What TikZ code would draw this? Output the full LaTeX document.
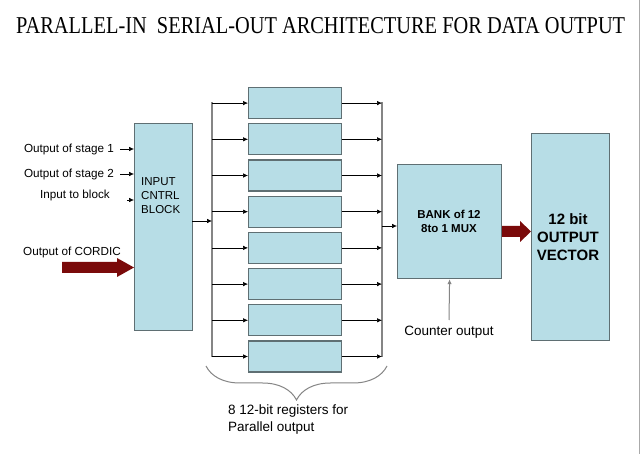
\documentclass[tikz,border=0pt]{standalone}
\usepackage{fontspec}
\setmainfont{Liberation Sans}
\newfontfamily\titlefont{Liberation Serif}
\usetikzlibrary{arrows.meta,decorations.pathreplacing,calc}
\definecolor{boxfill}{HTML}{B7DDE6}
\definecolor{boxline}{HTML}{5F6F73}
\definecolor{busgray}{HTML}{858585}
\definecolor{darkred}{HTML}{7A0A0A}
\tikzset{
  blk/.style={draw=boxline, line width=1.2pt, fill=boxfill, anchor=north west, inner sep=0pt},
  arr/.style={-{Latex[length=5pt,width=4.5pt]}, black, line width=0.6pt},
  bus/.style={draw=busgray, line width=1.4pt},
  lbl/.style={font=\fontsize{11.7}{14}\selectfont, inner sep=0pt},
  bigarrow/.style={fill=darkred},
}
\begin{document}
\begin{tikzpicture}[x=1pt,y=-1pt]
\useasboundingbox (0,0) rectangle (643,454);
\fill[white] (0,0) rectangle (643,454);
\draw[busgray!70, line width=1pt] (639.5,0) -- (639.5,454);
% title
\node[inner sep=0pt, anchor=south west] (title) at (16,34)
  {\resizebox{609pt}{16pt}{\titlefont PARALLEL-IN\ \ SERIAL-OUT ARCHITECTURE FOR DATA OUTPUT}};
% input control block
\node[blk, minimum width=58pt, minimum height=207pt] (icb) at (134,123) {};
\node[lbl, align=left, anchor=north west, font=\fontsize{11.5}{14}\selectfont] (icbtxt) at (141,177) {INPUT\\CNTRL\\BLOCK};
% input labels
\node[lbl, anchor=east] (s1) at (114,149) {Output of stage 1};
\node[lbl, anchor=east] (s2) at (114,174) {Output of stage 2};
\node[lbl, anchor=east] (ib) at (110,195) {Input to block};
\node[lbl, anchor=west] (cord) at (23,252) {Output of CORDIC};
\coordinate (s1a) at (120,149);
\coordinate (s2a) at (120,174);
\coordinate (iba) at (127,200);
\draw[arr] (s1a) -- (s1a -| icb.west);
\draw[arr] (s2a) -- (s2a -| icb.west);
\draw[arr] (iba) -- (iba -| icb.west);
\fill[bigarrow] (62,262) -- (117,262) -- (117,258) -- (icb.west |- 0,267.5) -- (117,277) -- (117,273) -- (62,273) -- cycle;
% buses
\coordinate (bl) at (212,102);
\coordinate (blb) at (212,357);
\coordinate (br) at (382,102);
\coordinate (brb) at (382,357);
\draw[bus] (bl) -- (blb);
\draw[bus] (br) -- (brb);
\coordinate (icbo) at (192,221);
\draw[arr] (icbo) -- (icbo -| bl);
% registers
\foreach \i in {0,...,7} {
  \node[blk, minimum width=93pt, minimum height=31pt] (r\i) at (248,{87+36.2*\i}) {};
  \draw[arr] (r\i.west -| bl) -- (r\i.west);
  \draw[arr] (r\i.east) -- (r\i.east -| br);
}
% mux
\node[blk, minimum width=104pt, minimum height=114pt] (mux) at (397,164) {};
\node[lbl, align=center, font=\bfseries\fontsize{11.5}{14}\selectfont] (muxtxt) at (449,221) {BANK of 12\\8to 1 MUX};
\coordinate (muxin) at (382,226);
\draw[arr] (muxin) -- (muxin -| mux.west);
\node[lbl, font=\fontsize{13.5}{16}\selectfont] (cnt) at (449,332) {Counter output};
\coordinate (cnta) at (449,320);
\draw[-{Latex[length=5pt,width=4.5pt]}, busgray, line width=1pt] (cnta) -- (mux.south);
% output vector
\node[blk, minimum width=78pt, minimum height=207pt] (ov) at (531,133) {};
\node[lbl, align=center, font=\bfseries\fontsize{15}{18}\selectfont] (ovtxt) at (568,237) {12 bit\\OUTPUT\\VECTOR};
\fill[bigarrow] (mux.east |- 0,226) -- (520,226) -- (520,221) -- (ov.west |- 0,231.5) -- (520,242) -- (520,237) -- (mux.east |- 0,237) -- cycle;
% brace
\draw[decorate, decoration={brace, mirror, amplitude=34pt}, busgray, line width=1pt] (206,366) -- (387,366);
\node[lbl, align=left, anchor=north west, font=\fontsize{13.5}{17}\selectfont] (brtxt) at (228,405) {8 12-bit registers for\\Parallel output};
\end{tikzpicture}
\end{document}
